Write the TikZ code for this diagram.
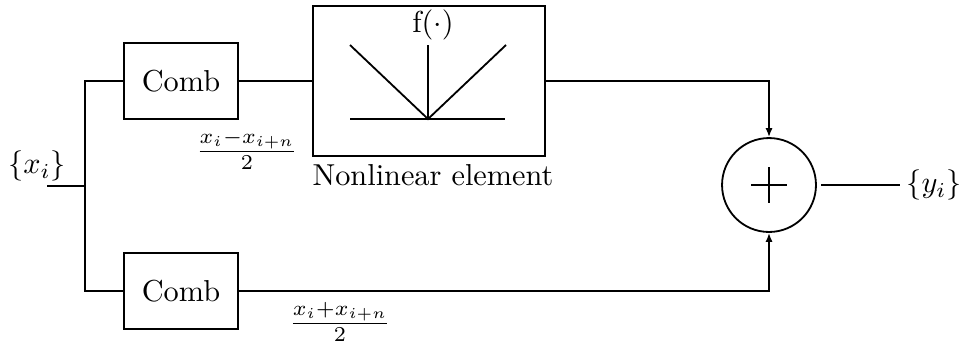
\documentclass[tikz,border=0pt]{standalone}
\usetikzlibrary{arrows.meta}
\begin{document}
\begin{tikzpicture}[x=0.33pt,y=-0.33pt,line width=0.6pt,
  combbox/.style={draw,minimum width=37.6pt,minimum height=25.1pt,inner sep=0pt},
  nlbox/.style={draw,minimum width=76.6pt,minimum height=49.5pt,inner sep=0pt},
  sumnode/.style={draw,circle,minimum size=31pt,inner sep=0pt},
  arr/.style={-{Latex[length=3pt,width=2.4pt]}}]
\useasboundingbox (0,0) rectangle (963,343);
% blocks
\node[combbox] (c1) at (181,81) {Comb};
\node[combbox] (c2) at (181,291) {Comb};
\node[nlbox] (nl) at (429,81) {};
\node[sumnode] (s) at (769,185) {};
% plus sign
\draw ([xshift=-18*0.33pt]s.center) -- ([xshift=18*0.33pt]s.center);
\draw ([yshift=18*0.33pt]s.center) -- ([yshift=-18*0.33pt]s.center);
% nonlinearity graph
\node (ftext) at (433,25) {f($\cdot$)};
\draw (350,45) -- (428,119) -- (506,45);
\draw (428,45) -- (428,119);
\draw (350,119) -- (505,119);
% labels
\node (xin) at (37,166) {$\{x_i\}$};
\node (yout) at (934,185) {$\{y_i\}$};
\node (fminus) at (247,150) {$\frac{x_i-x_{i+n}}{2}$};
\node (fplus) at (340,322) {$\frac{x_i+x_{i+n}}{2}$};
\node (nllabel) at (433,175) {Nonlinear element};
% connectors
\coordinate (in) at (47,186);
\coordinate (sp) at (85,186);
\coordinate (out) at (900,185);
\draw (in) -- (sp);
\draw (c1.west) -| (sp) |- (c2.west);
\draw (c1.east) -- (nl.west);
\draw[arr] (nl.east) -| (s.north);
\draw[arr] (c2.east) -| (s.south);
\draw[shorten <=1.5pt] (s.east) -- (out);
\end{tikzpicture}
\end{document}
